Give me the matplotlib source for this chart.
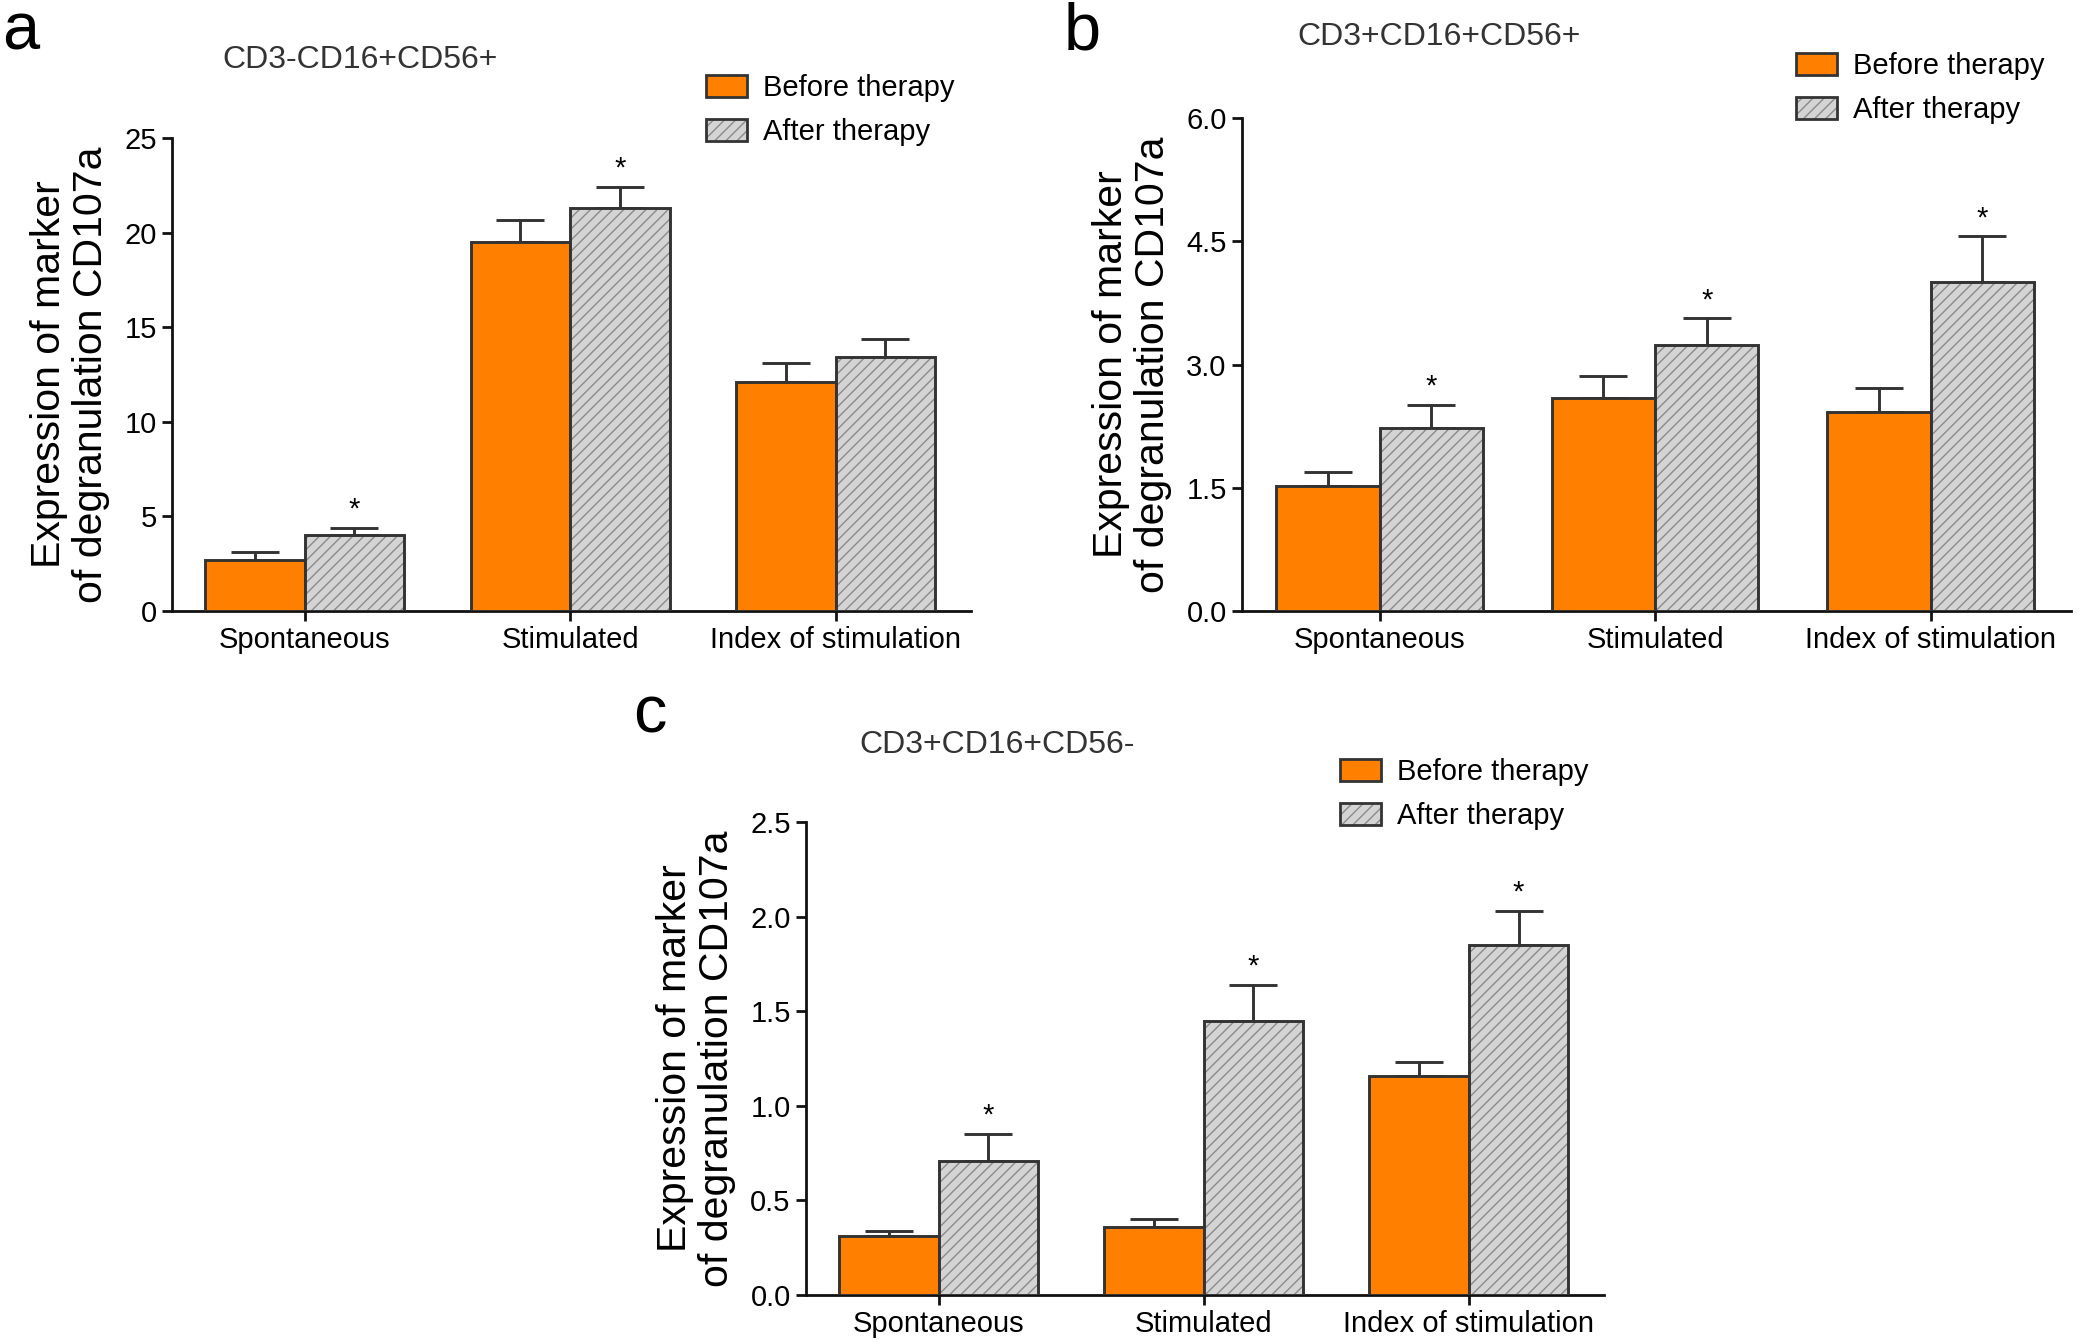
import numpy as np
import matplotlib
matplotlib.use('Agg')
import matplotlib.pyplot as plt
from matplotlib.patches import Patch
from matplotlib.legend_handler import HandlerTuple

# ---- data ----
groups = ['Spontaneous', 'Stimulated', 'Index of stimulation']
series = ['Before therapy', 'After therapy']

a_before = [2.7, 19.5, 12.1]
a_before_err = [0.4, 1.15, 1.0]
a_after = [4.0, 21.3, 13.4]
a_after_err = [0.4, 1.1, 1.0]
a_stars = [True, True, False]
a_ticks = [0, 5, 10, 15, 20, 25]

b_before = [1.52, 2.59, 2.42]
b_before_err = [0.17, 0.27, 0.29]
b_after = [2.23, 3.24, 4.0]
b_after_err = [0.28, 0.32, 0.56]
b_stars = [True, True, True]
b_ticks = [0.0, 1.5, 3.0, 4.5, 6.0]

c_before = [0.31, 0.36, 1.16]
c_before_err = [0.03, 0.04, 0.07]
c_after = [0.71, 1.45, 1.85]
c_after_err = [0.14, 0.19, 0.18]
c_stars = [True, True, True]
c_ticks = [0.0, 0.5, 1.0, 1.5, 2.0, 2.5]

titles = ['CD3-CD16+CD56+', 'CD3+CD16+CD56+', 'CD3+CD16+CD56-']
letters = ['a', 'b', 'c']
ylabel = 'Expression of marker\nof degranulation CD107a'

ORANGE = '#FF8000'
GRAY = '#D4D4D4'
HATCHC = '#8A8A8A'
EDGE = '#333333'
NARROW = ['Liberation Sans Narrow', 'Liberation Sans', 'DejaVu Sans']
REG = ['Liberation Sans', 'DejaVu Sans']

plt.rcParams['hatch.linewidth'] = 1.0

fig = plt.figure(figsize=(20.79, 13.44), dpi=100)

W, H = 2079, 1344


def px_axes(l, t, r, b):
    return fig.add_axes([l / W, 1 - b / H, (r - l) / W, (b - t) / H])


def panel(ax, before, berr, after, aerr, stars, ticks, fmt):
    x = np.arange(len(groups))
    w = 0.375
    ax.bar(x - w / 2, before, w, color=ORANGE, edgecolor=EDGE, linewidth=2.1, zorder=3)
    ax.bar(x + w / 2, after, w, color=GRAY, edgecolor=HATCHC, hatch='///', linewidth=0, zorder=3)
    ax.bar(x + w / 2, after, w, color='none', edgecolor=EDGE, linewidth=2.1, zorder=4)
    zeros = np.zeros(len(groups))
    ax.errorbar(x - w / 2, before, yerr=[zeros, berr], fmt='none', ecolor=EDGE,
                elinewidth=2.1, capsize=17, capthick=2.1, zorder=2)
    ax.errorbar(x + w / 2, after, yerr=[zeros, aerr], fmt='none', ecolor=EDGE,
                elinewidth=2.1, capsize=17, capthick=2.1, zorder=2)
    for xi, v, e, s in zip(x, after, aerr, stars):
        if s:
            ax.annotate('*', (xi + w / 2, v + e), xytext=(0, 3), textcoords='offset points',
                        ha='center', va='bottom', fontsize=21, family=REG)
    ax.set_xlim(-0.5, 2.51)
    ax.set_ylim(ticks[0], ticks[-1])
    ax.set_xticks(x)
    ax.set_xticklabels(groups, family=NARROW, fontsize=21)
    ax.set_yticks(ticks)
    ax.set_yticklabels([fmt.format(t) for t in ticks], family=NARROW, fontsize=21)
    for s in ['top', 'right']:
        ax.spines[s].set_visible(False)
    for s in ['left', 'bottom']:
        ax.spines[s].set_linewidth(2.0)
        ax.spines[s].set_color('#111111')
    ax.tick_params(axis='both', width=2.0, length=7, color='#111111', pad=4)
    ax.set_ylabel(ylabel, family=REG, fontsize=29.5, labelpad=10, linespacing=1.15)


def legend(ax, x, y):
    h1 = Patch(facecolor=ORANGE, edgecolor=EDGE, linewidth=2.0)
    h2 = (Patch(facecolor=GRAY, edgecolor=HATCHC, hatch='///', linewidth=0),
          Patch(facecolor='none', edgecolor=EDGE, linewidth=2.0))
    ax.legend([h1, h2], series, handler_map={tuple: HandlerTuple(ndivide=1, pad=0)},
              loc='upper left', bbox_to_anchor=(x / W, 1 - y / H),
              bbox_transform=fig.transFigure, frameon=False,
              prop={'family': NARROW, 'size': 21}, handlelength=1.4, handleheight=0.8,
              handletextpad=0.55, labelspacing=0.55, borderpad=0, borderaxespad=0)


ax_a = px_axes(172, 138, 971, 611)
panel(ax_a, a_before, a_before_err, a_after, a_after_err, a_stars, a_ticks, '{:g}')
legend(ax_a, 706, 74)

ax_b = px_axes(1242, 118, 2071, 611)
panel(ax_b, b_before, b_before_err, b_after, b_after_err, b_stars, b_ticks, '{:.1f}')
legend(ax_b, 1796, 52)

ax_c = px_axes(806, 822, 1604, 1295)
panel(ax_c, c_before, c_before_err, c_after, c_after_err, c_stars, c_ticks, '{:.1f}')
legend(ax_c, 1340, 758)

# titles and panel letters
tkw = dict(ha='center', va='center', family=NARROW, fontsize=23, color='#333333')
fig.text(360 / W, 1 - 60 / H, titles[0], **tkw)
fig.text(1439 / W, 1 - 37 / H, titles[1], **tkw)
fig.text(997 / W, 1 - 745 / H, titles[2], **tkw)

lkw = dict(ha='center', va='center', family=REG, fontsize=48)
fig.text(21 / W, 1 - 33 / H, letters[0], **lkw)
fig.text(1082 / W, 1 - 33 / H, letters[1], **lkw)
fig.text(650 / W, 1 - 715 / H, letters[2], **lkw)

fig.savefig('out.png', dpi=100)
